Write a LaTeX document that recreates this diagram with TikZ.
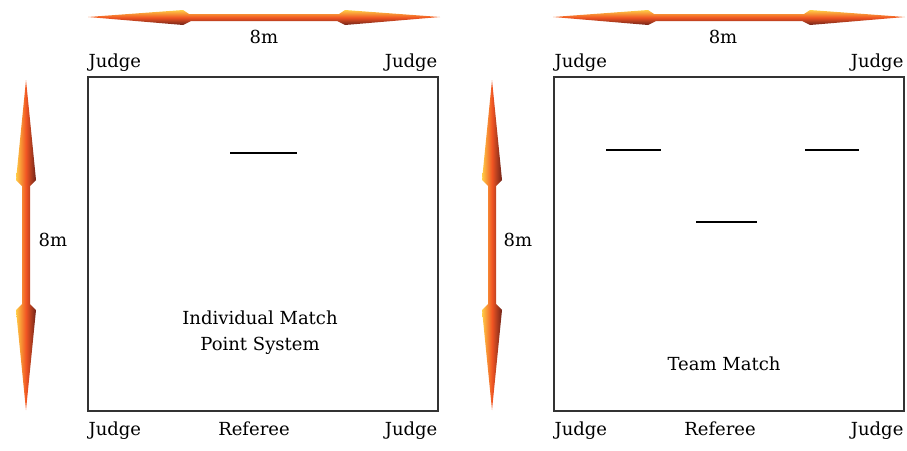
\documentclass[tikz,border=0pt]{standalone}
\usepackage{fontspec}
\setmainfont{DejaVu Serif}
\usetikzlibrary{positioning}

\definecolor{arrowtop}{RGB}{255,205,70}
\definecolor{arrowmid}{RGB}{240,85,35}
\definecolor{arrowbot}{RGB}{110,35,25}

\tikzset{
  field/.style={draw=black!80, line width=1.2pt, minimum width=350pt, minimum height=334pt, inner sep=0pt},
  lbl/.style={inner sep=1pt, font=\fontsize{18}{21}\selectfont},
  harrow/.style={top color=arrowtop, bottom color=arrowbot, middle color=arrowmid},
  varrow/.style={left color=arrowtop, right color=arrowbot, middle color=arrowmid},
  mark line/.style={line width=1.1pt}
}

\begin{document}
\begin{tikzpicture}[x=1pt, y=-1pt]
    \useasboundingbox (0,0) rectangle (907,450);

    % the two match fields
    \node[field] (indiv) at (263,244) {};
    \node[field] (team) at (729,244) {};

    % 8m arrows over the fields
    \foreach \xa in {88,553} {
        \path[harrow] (\xa,17) -- ++(95,-7) -- ++(6,4) -- ++(150,0) -- ++(6,-4) -- ++(95,7)
            -- ++(-95,8) -- ++(-8,-4) -- ++(-146,0) -- ++(-8,4) -- cycle;
    }
    % 8m arrows beside the fields
    \foreach \xb in {26,492} {
        \path[varrow] (\xb,80) -- ++(10,100) -- ++(-6,6) -- ++(0,118) -- ++(6,6) -- ++(-10,100)
            -- ++(-10,-100) -- ++(6,-6) -- ++(0,-118) -- ++(-6,-6) -- cycle;
    }

    \node[lbl] (indivtop) at (264,37) {8m};
    \node[lbl] (teamtop) at (723,37) {8m};
    \node[lbl] (indivside) at (53,240) {8m};
    \node[lbl] (teamside) at (518,240) {8m};

    % judges and referee
    \node[lbl, anchor=south west, yshift=4pt] (j1) at (indiv.north west) {Judge};
    \node[lbl, anchor=south east, yshift=4pt] (j2) at (indiv.north east) {Judge};
    \node[lbl, anchor=north west, yshift=-9pt] (j3) at (indiv.south west) {Judge};
    \node[lbl, anchor=north east, yshift=-9pt] (j4) at (indiv.south east) {Judge};
    \node[lbl, anchor=north, yshift=-9pt] (ref1) at ([xshift=-9pt]indiv.south) {Referee};

    \node[lbl, anchor=south west, yshift=4pt] (j5) at (team.north west) {Judge};
    \node[lbl, anchor=south east, yshift=4pt] (j6) at (team.north east) {Judge};
    \node[lbl, anchor=north west, yshift=-9pt] (j7) at (team.south west) {Judge};
    \node[lbl, anchor=north east, yshift=-9pt] (j8) at (team.south east) {Judge};
    \node[lbl, anchor=north, yshift=-9pt] (ref2) at ([xshift=-9pt]team.south) {Referee};

    % contestant marks
    \draw[mark line] (230,153) -- (297,153);
    \draw[mark line] (606,150) -- (661,150);
    \draw[mark line] (805,150) -- (859,150);
    \draw[mark line] (696,222) -- (757,222);

    \node[lbl, align=center] (indivtxt) at (260,333) {Individual Match\\[5pt]Point System};
    \node[lbl] (teamtxt) at (724,364) {Team Match};
\end{tikzpicture}
\end{document}
